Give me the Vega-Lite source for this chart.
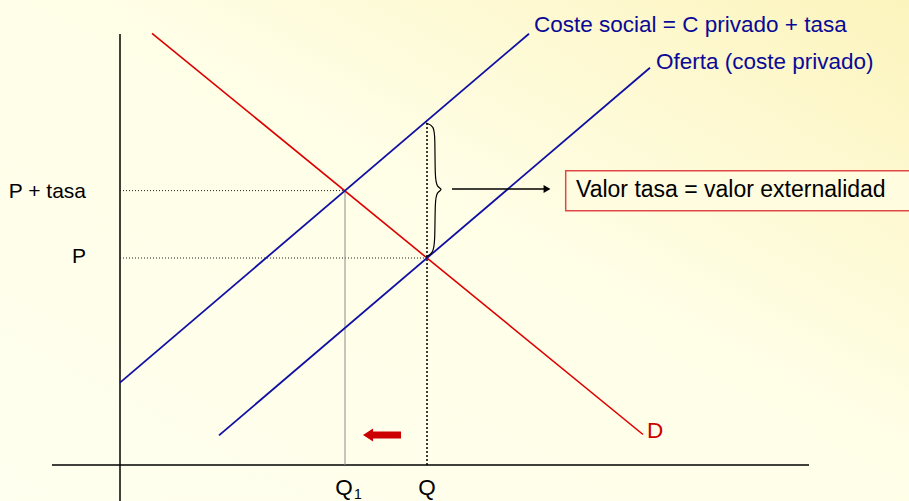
{
  "$schema": "https://vega.github.io/schema/vega-lite/v6.json",
  "width": 909,
  "height": 501,
  "padding": 0,
  "autosize": {"type": "none"},
  "background": "#FFFEE9",
  "config": {
    "view": {
      "stroke": null,
      "fill": {"gradient": "linear", "x1": 0, "y1": 1, "x2": 1, "y2": 0,
        "stops": [{"offset": 0, "color": "#FFFFEF"}, {"offset": 0.55, "color": "#FFFEE7"}, {"offset": 1, "color": "#FCF4BD"}]}
    },
    "text": {"font": "Liberation Sans"}
  },
  "datasets": {
    "lines": [
      {"id": "xaxis", "q": -6.8, "p": 0, "i": 0}, {"id": "xaxis", "q": 68.9, "p": 0, "i": 1},
      {"id": "yaxis", "q": 0, "p": -3.7, "i": 0}, {"id": "yaxis", "q": 0, "p": 43.1, "i": 1},
      {"id": "hPt", "q": 0, "p": 27.44, "i": 0}, {"id": "hPt", "q": 22.5, "p": 27.44, "i": 1},
      {"id": "hP", "q": 0, "p": 20.7, "i": 0}, {"id": "hP", "q": 30.7, "p": 20.7, "i": 1},
      {"id": "vQ1", "q": 22.5, "p": 0, "i": 0}, {"id": "vQ1", "q": 22.5, "p": 27.44, "i": 1},
      {"id": "vQ", "q": 30.7, "p": 0, "i": 0}, {"id": "vQ", "q": 30.7, "p": 34.43, "i": 1},
      {"id": "demand", "q": 3.2, "p": 43.17, "i": 0}, {"id": "demand", "q": 52.3, "p": 3.05, "i": 1},
      {"id": "supply", "q": 9.9, "p": 2.96, "i": 0}, {"id": "supply", "q": 53.0, "p": 39.72, "i": 1},
      {"id": "social", "q": 0, "p": 8.24, "i": 0}, {"id": "social", "q": 40.9, "p": 43.13, "i": 1},
      {"id": "arrow", "q": 33.2, "p": 27.6, "i": 0}, {"id": "arrow", "q": 42.4, "p": 27.6, "i": 1}
    ],
    "brace": [
      {"q": 30.6, "p": 34.2, "i": 0},
      {"q": 31.4, "p": 33.9, "i": 1},
      {"q": 31.5, "p": 32.8, "i": 2},
      {"q": 31.5, "p": 28.6, "i": 3},
      {"q": 31.7, "p": 27.8, "i": 4},
      {"q": 32.3, "p": 27.55, "i": 5},
      {"q": 31.7, "p": 27.3, "i": 6},
      {"q": 31.5, "p": 26.5, "i": 7},
      {"q": 31.5, "p": 22.2, "i": 8},
      {"q": 31.3, "p": 21.2, "i": 9},
      {"q": 30.6, "p": 20.8, "i": 10}
    ],
    "marks": [
      {"id": "head", "q": 42.7, "p": 27.6},
      {"id": "shift", "q": 26.2, "p": 3.0}
    ],
    "box": [{"q": 44.57, "q2": 79.2, "p": 25.43, "p2": 29.43}],
    "blueText": [
      {"label": "Coste social = C privado + tasa", "q": 41.4, "p": 44.0},
      {"label": "Oferta (coste privado)", "q": 53.6, "p": 40.3}
    ],
    "priceText": [
      {"label": "P + tasa", "q": -3.4, "p": 27.35},
      {"label": "P", "q": -3.4, "p": 20.8}
    ],
    "qText": [
      {"label": "Q", "q": 30.7, "p": -2.3},
      {"label": "Q", "q": 22.4, "p": -2.3}
    ],
    "subText": [{"label": "1", "q": 23.4, "p": -2.95}],
    "dText": [{"label": "D", "q": 52.7, "p": 3.4}],
    "boxText": [{"label": "Valor tasa = valor externalidad", "q": 45.6, "p": 27.5}]
  },
  "encoding": {
    "x": {"field": "q", "type": "quantitative", "scale": {"domain": [-12, 78.9], "nice": false, "zero": false}, "axis": null},
    "y": {"field": "p", "type": "quantitative", "scale": {"domain": [-3.6, 46.5], "nice": false, "zero": false}, "axis": null}
  },
  "layer": [
    {
      "data": {"name": "box"},
      "mark": {"type": "rect", "fill": "#FFFCE0", "stroke": "#E04848", "strokeWidth": 1.5},
      "encoding": {"x2": {"field": "q2"}, "y2": {"field": "p2"}}
    },
    {
      "data": {"name": "lines"},
      "transform": [{"filter": "datum.id === 'xaxis' || datum.id === 'yaxis'"}],
      "mark": {"type": "line", "color": "#000000", "strokeWidth": 1.5},
      "encoding": {"detail": {"field": "id"}, "order": {"field": "i"}}
    },
    {
      "data": {"name": "lines"},
      "transform": [{"filter": "datum.id === 'hPt' || datum.id === 'hP'"}],
      "mark": {"type": "line", "color": "#222222", "strokeWidth": 1, "strokeDash": [1, 2]},
      "encoding": {"detail": {"field": "id"}, "order": {"field": "i"}}
    },
    {
      "data": {"name": "lines"},
      "transform": [{"filter": "datum.id === 'vQ1'"}],
      "mark": {"type": "line", "color": "#8C8C8C", "strokeWidth": 1},
      "encoding": {"order": {"field": "i"}}
    },
    {
      "data": {"name": "lines"},
      "transform": [{"filter": "datum.id === 'vQ'"}],
      "mark": {"type": "line", "color": "#000000", "strokeWidth": 1.5, "strokeDash": [2, 2]},
      "encoding": {"order": {"field": "i"}}
    },
    {
      "data": {"name": "lines"},
      "transform": [{"filter": "datum.id === 'demand'"}],
      "mark": {"type": "line", "color": "#DD0000", "strokeWidth": 1.6},
      "encoding": {"order": {"field": "i"}}
    },
    {
      "data": {"name": "lines"},
      "transform": [{"filter": "datum.id === 'supply' || datum.id === 'social'"}],
      "mark": {"type": "line", "color": "#0F0FA3", "strokeWidth": 1.8},
      "encoding": {"detail": {"field": "id"}, "order": {"field": "i"}}
    },
    {
      "data": {"name": "brace"},
      "mark": {"type": "line", "color": "#000000", "strokeWidth": 1.2, "interpolate": "basis"},
      "encoding": {"order": {"field": "i"}}
    },
    {
      "data": {"name": "lines"},
      "transform": [{"filter": "datum.id === 'arrow'"}],
      "mark": {"type": "line", "color": "#000000", "strokeWidth": 1.3},
      "encoding": {"order": {"field": "i"}}
    },
    {
      "data": {"name": "marks"},
      "transform": [{"filter": "datum.id === 'head'"}],
      "mark": {"type": "point", "shape": "triangle-right", "filled": true, "color": "#000000", "size": 64, "opacity": 1}
    },
    {
      "data": {"name": "marks"},
      "transform": [{"filter": "datum.id === 'shift'"}],
      "mark": {"type": "point", "shape": "M-1,0L-0.47,-0.34L-0.47,-0.18L1,-0.18L1,0.18L-0.47,0.18L-0.47,0.34Z", "filled": true, "color": "#CC0000", "size": 1444, "opacity": 1}
    },
    {
      "data": {"name": "blueText"},
      "mark": {"type": "text", "align": "left", "baseline": "middle", "fontSize": 22.5, "color": "#0A0A96"},
      "encoding": {"text": {"field": "label"}}
    },
    {
      "data": {"name": "priceText"},
      "mark": {"type": "text", "align": "right", "baseline": "middle", "fontSize": 21, "color": "#000000"},
      "encoding": {"text": {"field": "label"}}
    },
    {
      "data": {"name": "qText"},
      "mark": {"type": "text", "align": "center", "baseline": "middle", "fontSize": 22.5, "color": "#000000"},
      "encoding": {"text": {"field": "label"}}
    },
    {
      "data": {"name": "subText"},
      "mark": {"type": "text", "align": "left", "baseline": "middle", "fontSize": 14, "color": "#000000"},
      "encoding": {"text": {"field": "label"}}
    },
    {
      "data": {"name": "dText"},
      "mark": {"type": "text", "align": "left", "baseline": "middle", "fontSize": 22.5, "color": "#CC0000"},
      "encoding": {"text": {"field": "label"}}
    },
    {
      "data": {"name": "boxText"},
      "mark": {"type": "text", "align": "left", "baseline": "middle", "fontSize": 23, "color": "#000000"},
      "encoding": {"text": {"field": "label"}}
    }
  ]
}
